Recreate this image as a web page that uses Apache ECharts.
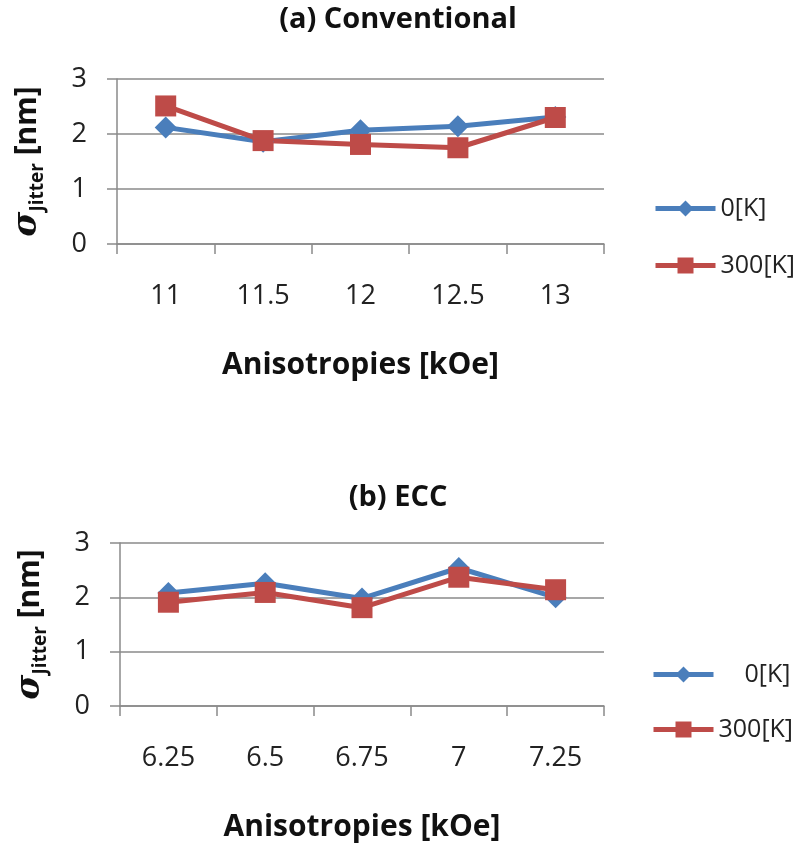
<!DOCTYPE html>
<html>
<head>
<meta charset="utf-8">
<script src="https://cdn.jsdelivr.net/npm/echarts@6/dist/echarts.min.js"></script>
<style>
html,body{margin:0;padding:0;background:#fff;}
#chart{width:796px;height:843px;}
</style>
</head>
<body>
<div id="chart"></div>
<script>
// ---- data ----
var catsA = ['11', '11.5', '12', '12.5', '13'];
var catsB = ['6.25', '6.5', '6.75', '7', '7.25'];
var a0K = [2.12, 1.86, 2.07, 2.14, 2.31];
var a300K = [2.51, 1.88, 1.81, 1.75, 2.30];
var b0K = [2.08, 2.26, 1.98, 2.54, 2.00];
var b300K = [1.91, 2.09, 1.81, 2.37, 2.14];
var yTicks = [0, 1, 2, 3];
var seriesNames = ['0[K]', '300[K]'];
var titles = ['(a) Conventional', '(b) ECC'];
var xName = 'Anisotropies [kOe]';

var FONT = 'Open Sans';
var BLUE = '#4A7EBB';
var RED = '#BE4B48';
var GREY = '#8a8a8a';

function yAxis(gi) {
  return {
    type: 'value', gridIndex: gi, min: yTicks[0], max: yTicks[yTicks.length - 1], interval: 1,
    axisLine: {show: true, lineStyle: {color: GREY, width: 1.5}},
    axisTick: {show: true, length: 10, lineStyle: {color: GREY, width: 1.5}},
    splitLine: {show: true, lineStyle: {color: GREY, width: 1.5}},
    axisLabel: {margin: 30, fontFamily: FONT, fontSize: 27, color: '#222'},
    name: '{s|σ}{sub|Jitter}{b| [nm]}',
    nameLocation: 'middle', nameRotate: 90, nameGap: 70,
    nameTextStyle: {
      rich: {
        s: {fontFamily: 'DejaVu Serif', fontStyle: 'italic', fontWeight: 'bold', fontSize: 34, color: '#111', verticalAlign: 'middle', lineHeight: 40},
        sub: {fontFamily: FONT, fontWeight: 'bold', fontSize: 19, color: '#111', verticalAlign: 'bottom', lineHeight: 24},
        b: {fontFamily: FONT, fontWeight: 'bold', fontSize: 30, color: '#111', verticalAlign: 'middle', lineHeight: 40}
      }
    }
  };
}
function xAxis(gi, cats) {
  return {
    type: 'category', gridIndex: gi, data: cats, boundaryGap: true,
    axisLine: {show: true, lineStyle: {color: GREY, width: 1.5}},
    axisTick: {show: true, length: 10, interval: 0, alignWithLabel: false, lineStyle: {color: GREY, width: 1.5}},
    axisLabel: {margin: 39, fontFamily: FONT, fontSize: 27, color: '#222', interval: 0},
    name: xName, nameLocation: 'middle', nameGap: 106,
    nameTextStyle: {fontFamily: FONT, fontWeight: 'bold', fontSize: 30, color: '#111'}
  };
}
function line(name, data, gi, color, symbol, size) {
  return {
    name: name, type: 'line', xAxisIndex: gi, yAxisIndex: gi, data: data,
    symbol: symbol, symbolSize: size, showSymbol: true,
    lineStyle: {color: color, width: 5},
    itemStyle: {color: color},
    animation: false
  };
}
function legend(left, top, gap, fmt) {
  var l = {orient: 'vertical', left: left, top: top, itemWidth: 60, itemHeight: 20, itemGap: gap,
    data: seriesNames, lineStyle: {width: 5},
    textStyle: {fontFamily: FONT, fontSize: 25, color: '#222'}};
  if (fmt) l.formatter = fmt;
  return l;
}

var chart = echarts.init(document.getElementById('chart'), null, {renderer: 'canvas'});
chart.setOption({
  backgroundColor: '#fff',
  animation: false,
  title: [
    {text: titles[0], left: 'center', top: 0, textStyle: {fontFamily: FONT, fontWeight: 'bold', fontSize: 29, color: '#111'}},
    {text: titles[1], left: 'center', top: 478, textStyle: {fontFamily: FONT, fontWeight: 'bold', fontSize: 29, color: '#111'}}
  ],
  legend: [
    legend(648, 191, 32),
    legend(646, 657, 30, function (n) { return n === seriesNames[0] ? '    ' + n : n; })
  ],
  grid: [
    {left: 117, right: 192, top: 79, height: 165},
    {left: 120, right: 192, top: 543, height: 165}
  ],
  xAxis: [xAxis(0, catsA), xAxis(1, catsB)],
  yAxis: [yAxis(0), yAxis(1)],
  series: [
    line(seriesNames[0], a0K, 0, BLUE, 'diamond', 22),
    line(seriesNames[1], a300K, 0, RED, 'rect', 21),
    line(seriesNames[0], b0K, 1, BLUE, 'diamond', 22),
    line(seriesNames[1], b300K, 1, RED, 'rect', 21)
  ]
});
</script>
</body>
</html>
